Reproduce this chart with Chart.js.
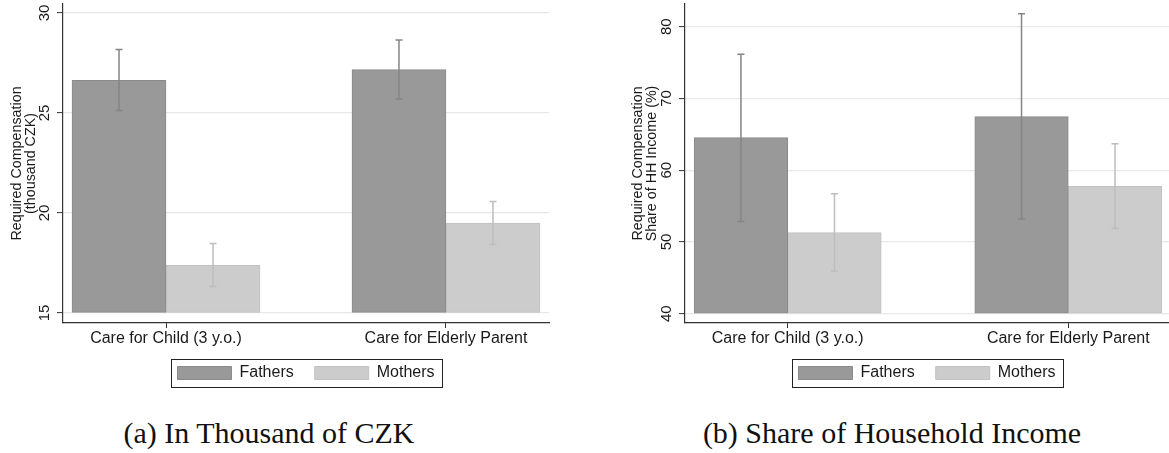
<!DOCTYPE html>
<html>
<head>
<meta charset="utf-8">
<script src="https://cdn.jsdelivr.net/npm/chart.js@4"></script>
<style>
  html, body { margin: 0; padding: 0; background: #fff; }
  body { width: 1169px; height: 453px; position: relative; overflow: hidden; }
  .panel { position: absolute; top: 0; height: 408px; }
  .caption {
    position: absolute; top: 416px;
    font-family: "Liberation Serif", "Times New Roman", serif;
    font-size: 30px; line-height: 34px; color: #111;
    white-space: nowrap; transform: translateX(-50%);
  }
</style>
</head>
<body>
<div class="panel" style="left:0;width:585px"><canvas id="czk" width="585" height="408"></canvas></div>
<div class="panel" style="left:600px;width:569px"><canvas id="share" width="569" height="408"></canvas></div>
<div class="caption" style="left:269px">(a) In Thousand of CZK</div>
<div class="caption" style="left:892px">(b) Share of Household Income</div>
<script>
// Categories and their positions on the horizontal axis
const categories = ['Care for Child (3 y.o.)', 'Care for Elderly Parent'];
const categoryPos = [0, 1];
const seriesNames = ['Fathers', 'Mothers'];

// Panel (a): required compensation, thousand CZK
const fathersCZK   = [26.63, 27.17];
const fathersCZKLo = [25.13, 25.70];
const fathersCZKHi = [28.17, 28.65];
const mothersCZK   = [17.38, 19.49];
const mothersCZKLo = [16.32, 18.43];
const mothersCZKHi = [18.47, 20.57];
const czkTicks = [15, 20, 25, 30];

// Panel (b): required compensation, share of household income (%)
const fathersShare   = [64.54, 67.46];
const fathersShareLo = [52.83, 53.20];
const fathersShareHi = [76.17, 81.80];
const mothersShare   = [51.30, 57.74];
const mothersShareLo = [45.93, 51.86];
const mothersShareHi = [56.72, 63.67];
const shareTicks = [40, 50, 60, 70, 80];

Chart.defaults.font.family = '"Liberation Sans", Arial, sans-serif';
Chart.defaults.color = '#1a1a1a';

// Confidence-interval whiskers drawn on top of each bar
const errorBars = {
  id: 'errorBars',
  afterDatasetsDraw(chart) {
    const ctx = chart.ctx, y = chart.scales.y;
    chart.data.datasets.forEach((ds, i) => {
      const meta = chart.getDatasetMeta(i);
      if (meta.hidden) return;
      meta.data.forEach((bar, j) => {
        const top = y.getPixelForValue(ds.errHigh[j]);
        const bot = y.getPixelForValue(ds.errLow[j]);
        ctx.save();
        ctx.strokeStyle = ds.errColor;
        ctx.lineWidth = 1.5;
        ctx.beginPath();
        ctx.moveTo(bar.x, top); ctx.lineTo(bar.x, bot);
        ctx.moveTo(bar.x - 3.5, top); ctx.lineTo(bar.x + 3.5, top);
        ctx.moveTo(bar.x - 3.5, bot); ctx.lineTo(bar.x + 3.5, bot);
        ctx.stroke();
        ctx.restore();
      });
    });
  }
};

// Pull the legend row up, closer to the category labels
const legendLift = {
  id: 'legendLift',
  afterLayout(chart) {
    const lg = chart.legend;
    lg.top -= 7;
    lg.bottom -= 7;
  }
};

// Frame around the legend
const legendFrame = {
  id: 'legendFrame',
  afterDraw(chart) {
    const boxes = chart.legend.legendHitBoxes;
    if (!boxes || !boxes.length) return;
    const first = boxes[0], last = boxes[boxes.length - 1];
    const left = first.left - 6;
    const right = last.left + last.width + 8;
    const top = first.top - 6;
    const bottom = first.top + first.height + 6;
    const ctx = chart.ctx;
    ctx.save();
    ctx.strokeStyle = '#222';
    ctx.lineWidth = 1;
    ctx.strokeRect(Math.round(left) + 0.5, Math.round(top) + 0.5, Math.round(right - left), Math.round(bottom - top));
    ctx.restore();
  }
};

// Vertical tick labels on the value axis
const verticalTickText = {
  id: 'verticalTickText',
  afterDraw(chart) {
    const y = chart.scales.y, ctx = chart.ctx;
    ctx.save();
    ctx.font = '15px "Liberation Sans", Arial, sans-serif';
    ctx.fillStyle = '#1a1a1a';
    ctx.textAlign = 'center';
    ctx.textBaseline = 'middle';
    y.ticks.forEach(t => {
      const py = y.getPixelForValue(t.value);
      ctx.save();
      ctx.translate(y.right - 18, py);
      ctx.rotate(-Math.PI / 2);
      ctx.fillText(String(t.value), 0, 0);
      ctx.restore();
    });
    ctx.restore();
  }
};

function buildPanel(id, p) {
  const toPoints = vals => categoryPos.map((x, i) => ({ x, y: vals[i] }));
  return new Chart(document.getElementById(id), {
    type: 'bar',
    data: {
      datasets: [
        {
          label: seriesNames[0],
          data: toPoints(p.fathers),
          errLow: p.fathersLo, errHigh: p.fathersHi, errColor: '#858585',
          backgroundColor: '#999999', borderColor: '#8a8a8a',
          borderWidth: 1, borderSkipped: false,
          base: p.base, barThickness: p.barThickness
        },
        {
          label: seriesNames[1],
          data: toPoints(p.mothers),
          errLow: p.mothersLo, errHigh: p.mothersHi, errColor: '#bdbdbd',
          backgroundColor: '#cccccc', borderColor: '#c2c2c2',
          borderWidth: 1, borderSkipped: false,
          base: p.base, barThickness: p.barThickness
        }
      ]
    },
    options: {
      responsive: false,
      animation: false,
      devicePixelRatio: 1,
      layout: { padding: { top: 4, right: p.padRight, bottom: 10, left: 0 } },
      plugins: {
        legend: {
          position: 'bottom',
          fullSize: false,
          labels: { boxWidth: 54, boxHeight: 13, padding: 21, color: '#1a1a1a', font: { size: 16 } }
        },
        tooltip: { enabled: false }
      },
      scales: {
        x: {
          type: 'linear',
          min: p.xMin, max: p.xMax,
          offset: false,
          afterBuildTicks: s => { s.ticks = categoryPos.map(v => ({ value: v })); },
          afterFit: s => { s.height = 28; },
          ticks: {
            callback: (v, i) => categories[i],
            maxRotation: 0, minRotation: 0, autoSkip: false,
            padding: 1, color: '#1a1a1a', font: { size: 16 }
          },
          grid: { offset: false, drawOnChartArea: false, drawTicks: true, tickLength: 5, tickColor: '#333', tickWidth: 1 },
          border: { display: true, color: '#333', width: 1.2 }
        },
        y: {
          type: 'linear',
          min: p.yMin, max: p.yMax,
          beginAtZero: false,
          afterBuildTicks: s => { s.ticks = p.yTicks.map(v => ({ value: v })); },
          afterFit: s => { s.width = p.axisWidth; },
          ticks: { display: false },
          grid: { color: '#e8e8e8', lineWidth: 1.2, drawTicks: true, tickLength: 6, tickColor: '#333', tickWidth: 1 },
          border: { display: true, color: '#333', width: 1.2 },
          title: {
            display: true,
            text: p.yTitle,
            color: '#1a1a1a',
            font: { size: 14.3, lineHeight: 0.95 },
            padding: { top: p.titlePad, bottom: 0 }
          }
        }
      }
    },
    plugins: [errorBars, legendLift, legendFrame, verticalTickText]
  });
}

buildPanel('czk', {
  fathers: fathersCZK, fathersLo: fathersCZKLo, fathersHi: fathersCZKHi,
  mothers: mothersCZK, mothersLo: mothersCZKLo, mothersHi: mothersCZKHi,
  yTicks: czkTicks, yMin: 14.5, yMax: 30.45, base: 15,
  xMin: -0.368, xMax: 1.368, barThickness: 94,
  axisWidth: 63, padRight: 36, titlePad: 10.5,
  yTitle: ['Required Compensation', '(thousand CZK)']
});

buildPanel('share', {
  fathers: fathersShare, fathersLo: fathersShareLo, fathersHi: fathersShareHi,
  mothers: mothersShare, mothersLo: mothersShareLo, mothersHi: mothersShareHi,
  yTicks: shareTicks, yMin: 38.7, yMax: 83.16, base: 40,
  xMin: -0.366, xMax: 1.359, barThickness: 93.5,
  axisWidth: 85, padRight: 0, titlePad: 31.5,
  yTitle: ['Required Compensation', 'Share of HH Income (%)']
});
</script>
</body>
</html>
